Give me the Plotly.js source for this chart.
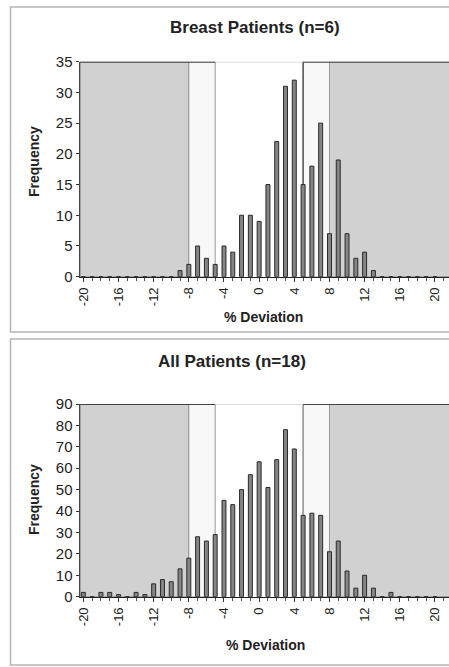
<!DOCTYPE html>
<html>
<head>
<meta charset="utf-8">
<script src="https://cdn.plot.ly/plotly-3.0.1.min.js"></script>
<style>
  html, body { margin: 0; padding: 0; background: #fff; overflow: hidden; }
  #chart { width: 449px; height: 667px; }
</style>
</head>
<body>
<div id="chart"></div>
<script>
// ---- Data ----
const deviations = [-20,-19,-18,-17,-16,-15,-14,-13,-12,-11,-10,-9,-8,-7,-6,-5,-4,-3,-2,-1,0,1,2,3,4,5,6,7,8,9,10,11,12,13,14,15,16,17,18,19,20];
const breastFreq = [0,0,0,0,0,0,0,0,0,0,0,1,2,5,3,2,5,4,10,10,9,15,22,31,32,15,18,25,7,19,7,3,4,1,0,0,0,0,0,0,0];
const allFreq    = [2,0,2,2,1,0,2,1,6,8,7,13,18,28,26,29,45,43,50,57,63,51,64,78,69,38,39,38,21,26,12,4,10,4,0,2,0,0,0,0,0];
const xTickVals  = [-20,-16,-12,-8,-4,0,4,8,12,16,20];
const xTickText  = ["-20","-16","-12","-8","-4","0","4","8","12","16","20"];
const bandOuter = 8;   // tolerance band edges (% deviation)
const bandInner = 5;
const titleTop = "Breast Patients (n=6)";
const titleBottom = "All Patients (n=18)";
const xTitle = "% Deviation";
const yTitle = "Frequency";

// ---- Geometry helpers ----
const W = 449, H = 667;
const px = v => v / W;
const py = v => 1 - v / H;
const XR = [-20.38, 21.6];

const barStyle = {
  type: 'bar', width: 0.45,
  marker: { color: '#858585', line: { color: '#2a2a2a', width: 1 } },
  hoverinfo: 'x+y', showlegend: false
};

const traces = [
  Object.assign({ x: deviations, y: breastFreq, xaxis: 'x', yaxis: 'y' }, barStyle),
  Object.assign({ x: deviations, y: allFreq, xaxis: 'x2', yaxis: 'y2' }, barStyle)
];

function bandShapes(xref, yref, ymax, innerColor) {
  return [
    { type: 'rect', xref, yref, x0: XR[0], x1: -bandOuter, y0: 0, y1: ymax, fillcolor: '#d1d1d1', line: { color: '#777', width: 1 }, layer: 'below' },
    { type: 'rect', xref, yref, x0: bandOuter, x1: XR[1] + 1, y0: 0, y1: ymax, fillcolor: '#d1d1d1', line: { color: '#777', width: 1 }, layer: 'below' },
    { type: 'rect', xref, yref, x0: -bandOuter, x1: -bandInner, y0: 0, y1: ymax, fillcolor: '#f8f8f8', line: { color: '#999', width: 1 }, layer: 'below' },
    { type: 'rect', xref, yref, x0: bandInner, x1: bandOuter, y0: 0, y1: ymax, fillcolor: '#f8f8f8', line: { color: '#999', width: 1 }, layer: 'below' },
    { type: 'line', xref, yref, x0: bandInner, x1: bandInner, y0: 0, y1: ymax, line: { color: innerColor, width: 1 }, layer: 'below' },
    { type: 'line', xref, yref, x0: -bandInner, x1: bandInner, y0: ymax, y1: ymax, line: { color: '#cfcfcf', width: 1.5 }, layer: 'below' },
    { type: 'line', xref, yref, x0: XR[0], x1: -bandInner, y0: ymax, y1: ymax, line: { color: '#444', width: 2 }, layer: 'below' },
    { type: 'line', xref, yref, x0: bandInner, x1: XR[1] + 1, y0: ymax, y1: ymax, line: { color: '#444', width: 2 }, layer: 'below' }
  ];
}

const FAM = 'Arial, "Liberation Sans", sans-serif';
const xTickFont = { family: FAM, size: 13, color: '#222' };
const yTickFont = { family: FAM, size: 15, color: '#222' };
const axTitleFont = { family: FAM, size: 14, color: '#222' };
const mainTitleFont = { family: FAM, size: 17, color: '#222' };

function xAxis(anchor) {
  return {
    domain: [px(80), 1], range: XR, anchor: anchor,
    tickmode: 'array', tickvals: xTickVals, ticktext: xTickText, tickangle: -90,
    ticks: 'outside', ticklen: 4, tickcolor: '#333', tickwidth: 1,
    minor: { dtick: 1, tick0: 0, ticks: 'outside', ticklen: 3, tickcolor: '#555', showgrid: false },
    showline: true, linecolor: '#222', linewidth: 1.5,
    showgrid: false, zeroline: false, tickfont: xTickFont, fixedrange: true
  };
}
function yAxis(domain, ymax, dtick, anchor) {
  return {
    domain: domain, range: [0, ymax], anchor: anchor,
    dtick: dtick, tick0: 0, ticks: 'outside', ticklen: 3, tickcolor: '#333',
    showline: true, linecolor: '#444', linewidth: 1.5,
    showgrid: false, zeroline: false, tickfont: yTickFont,
    fixedrange: true
  };
}

const layout = {
  width: W, height: H,
  margin: { l: 0, r: 0, t: 0, b: 0 },
  paper_bgcolor: '#fff', plot_bgcolor: '#fff',
  showlegend: false, bargap: 0,
  xaxis: xAxis('y'),
  yaxis: yAxis([py(276.7), py(61.7)], 35, 5, 'x'),
  xaxis2: xAxis('y2'),
  yaxis2: yAxis([py(596.7), py(404)], 90, 10, 'x2'),
  shapes: [
    { type: 'rect', xref: 'paper', yref: 'paper', x0: px(10.5), x1: px(460), y0: py(332), y1: py(7), line: { color: '#b5b5b5', width: 1.5 }, fillcolor: 'rgba(0,0,0,0)', layer: 'below' },
    { type: 'rect', xref: 'paper', yref: 'paper', x0: px(10.5), x1: px(460), y0: py(665), y1: py(339), line: { color: '#b5b5b5', width: 1.5 }, fillcolor: 'rgba(0,0,0,0)', layer: 'below' }
  ].concat(bandShapes('x', 'y', 35, '#222'), bandShapes('x2', 'y2', 90, '#888')),
  annotations: [
    { text: '<b>' + titleTop + '</b>', xref: 'paper', yref: 'paper', x: px(255), y: py(27), showarrow: false, xanchor: 'center', yanchor: 'middle', font: mainTitleFont },
    { text: '<b>' + titleBottom + '</b>', xref: 'paper', yref: 'paper', x: px(232), y: py(361), showarrow: false, xanchor: 'center', yanchor: 'middle', font: mainTitleFont },
    { text: '<b>' + xTitle + '</b>', xref: 'paper', yref: 'paper', x: px(263), y: py(317), showarrow: false, xanchor: 'center', yanchor: 'middle', font: axTitleFont },
    { text: '<b>' + xTitle + '</b>', xref: 'paper', yref: 'paper', x: px(265), y: py(645), showarrow: false, xanchor: 'center', yanchor: 'middle', font: axTitleFont },
    { text: '<b>' + yTitle + '</b>', xref: 'paper', yref: 'paper', x: px(34), y: py(162), showarrow: false, textangle: -90, xanchor: 'center', yanchor: 'middle', font: axTitleFont },
    { text: '<b>' + yTitle + '</b>', xref: 'paper', yref: 'paper', x: px(34), y: py(500), showarrow: false, textangle: -90, xanchor: 'center', yanchor: 'middle', font: axTitleFont }
  ]
};

Plotly.newPlot('chart', traces, layout, { staticPlot: true, displayModeBar: false });
</script>
</body>
</html>
